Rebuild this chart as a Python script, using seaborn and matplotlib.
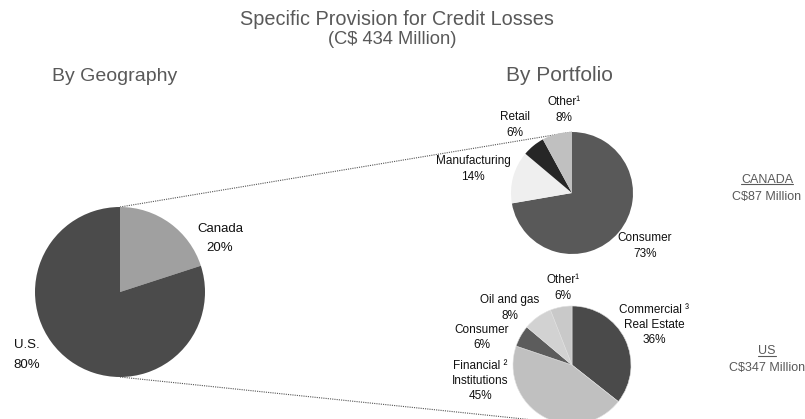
import matplotlib
matplotlib.use("Agg")
import matplotlib.pyplot as plt
import seaborn as sns

# Specific provision for credit losses, C$ 434 million in total
geo_labels = ["Canada", "U.S."]
geo_values = [20, 80]

# Canadian portfolio, C$87 million
ca_labels = ["Consumer", "Manufacturing", "Retail", "Other\u00b9"]
ca_values = [73, 14, 6, 8]

# US portfolio, C$347 million
us_labels = ["Commercial \u00b3\nReal Estate", "Financial \u00b2\nInstitutions",
             "Consumer", "Oil and gas", "Other\u00b9"]
us_values = [36, 45, 6, 8, 6]

geo_colors = ["#a0a0a0", "#4b4b4b"]
ca_colors = ["#595959", "#efefef", "#262626", "#c0c0c0"]
us_colors = ["#4a4a4a", "#c0c0c0", "#5c5c5c", "#d2d2d2", "#c9c9c9"]

W, H = 805, 419

sns.set_theme(style="white")
plt.rcParams["font.family"] = ["Liberation Sans", "DejaVu Sans"]

fig = plt.figure(figsize=(W / 100, H / 100), dpi=100)
ax = fig.add_axes([0, 0, 1, 1])


def P(x, y):
    # pixel position (origin top left) -> data position
    return x, H - y


# pie layout: centre and radius in pixels
geo_c, geo_r = P(120, 292), 85
ca_c, ca_r = P(572, 193), 61
us_c, us_r = P(572, 365), 59

wp = dict(linewidth=0)
ax.pie(geo_values, colors=sns.color_palette(geo_colors), startangle=90,
       counterclock=False, center=geo_c, radius=geo_r, wedgeprops=wp)
ax.pie(ca_values, colors=sns.color_palette(ca_colors), startangle=90,
       counterclock=False, center=ca_c, radius=ca_r, wedgeprops=wp)
ax.pie(us_values, colors=sns.color_palette(us_colors), startangle=90,
       counterclock=False, center=us_c, radius=us_r,
       wedgeprops=dict(linewidth=0.4, edgecolor="#e0e0e0"))

# dotted connectors: top of geography pie -> top of Canada pie,
# bottom of geography pie -> bottom of US pie
ax.plot([geo_c[0], ca_c[0]], [geo_c[1] + geo_r, ca_c[1] + ca_r],
        ls=(0, (1, 1)), lw=0.8, color="#555555", zorder=0)
ax.plot([geo_c[0], us_c[0]], [geo_c[1] - geo_r, us_c[1] - us_r],
        ls=(0, (1, 1)), lw=0.8, color="#555555", zorder=0)

ax.set_xlim(0, W)
ax.set_ylim(0, H)
ax.set_aspect("auto")
ax.axis("off")

grey = "#595959"
ink = "#111111"

# titles
ax.text(*P(397, 25), "Specific Provision for Credit Losses", ha="center",
        va="baseline", fontsize=14.3, color=grey)
ax.text(*P(392, 43.5), "(C$ 434 Million)", ha="center", va="baseline",
        fontsize=13.2, color=grey)
ax.text(*P(115, 81), "By Geography", ha="center", va="baseline",
        fontsize=14, color=grey)
ax.text(*P(559, 81), "By Portfolio", ha="center", va="baseline",
        fontsize=15, color=grey)

# slice labels (pixel centres)
geo_pos = [(220, 238.5), (27, 355)]
ca_pos = [(645, 246), (473, 169), (515, 125), (564, 110)]
us_pos = [(654, 325), (480, 381), (482, 337.5), (510, 308), (563, 288)]

for lab, val, pos in zip(geo_labels, geo_values, geo_pos):
    ax.text(*P(*pos), f"{lab}\n{val}%", ha="center", va="center",
            fontsize=9.5, color=ink, linespacing=1.8)

for labels, values, positions in [(ca_labels, ca_values, ca_pos),
                                  (us_labels, us_values, us_pos)]:
    for lab, val, pos in zip(labels, values, positions):
        ax.text(*P(*pos), f"{lab}\n{val}%", ha="center", va="center",
                fontsize=8.5, color=ink, linespacing=1.35)

# region totals on the right
heads = []
for name, total, y in [("CANADA", "C$87 Million", 180), ("US", "C$347 Million", 351)]:
    heads.append(ax.text(*P(767, y), name, ha="center", va="center",
                         fontsize=9, color=grey))
    ax.text(*P(767, y + 17), total, ha="center", va="center",
            fontsize=9, color=grey)

# underline the region names
fig.canvas.draw()
inv = ax.transData.inverted()
for t in heads:
    bb = t.get_window_extent().transformed(inv)
    ax.plot([bb.x0, bb.x1], [bb.y0 + 1.5, bb.y0 + 1.5], lw=0.8, color=grey)

fig.savefig("out.png", dpi=100)
